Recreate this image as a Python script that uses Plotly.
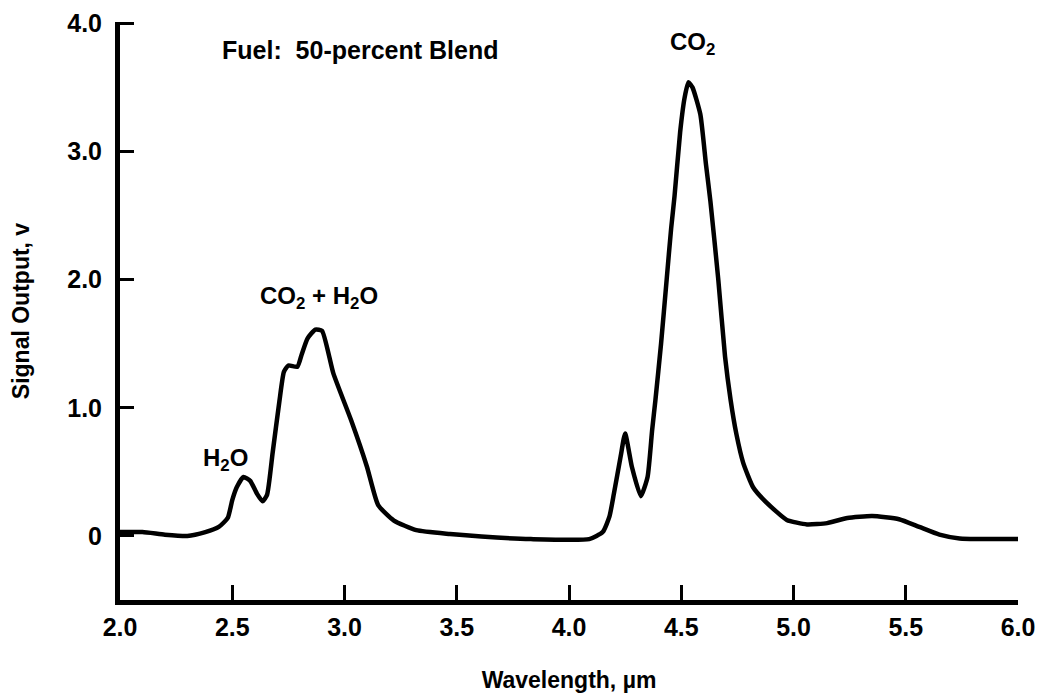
import plotly.graph_objects as go

wavelength = [2.00, 2.10, 2.20, 2.30, 2.38, 2.44, 2.48, 2.50, 2.52, 2.55, 2.58, 2.61, 2.635,
              2.655, 2.68, 2.71, 2.73, 2.75, 2.79, 2.81, 2.835, 2.87, 2.90, 2.95, 3.03, 3.10,
              3.15, 3.22, 3.32, 3.47, 3.61, 3.83, 4.09, 4.15, 4.18, 4.20, 4.23, 4.25, 4.28,
              4.32, 4.35, 4.37, 4.385, 4.41, 4.435, 4.455, 4.47, 4.495, 4.515, 4.532, 4.55,
              4.585, 4.61, 4.63, 4.665, 4.695, 4.72, 4.745, 4.776, 4.82, 4.88, 4.97, 5.06,
              5.15, 5.24, 5.35, 5.47, 5.56, 5.65, 5.74, 5.85, 6.00]
signal = [0.03, 0.03, 0.01, 0.00, 0.03, 0.07, 0.14, 0.28, 0.38, 0.46, 0.43, 0.33, 0.27,
          0.32, 0.65, 1.05, 1.28, 1.33, 1.32, 1.42, 1.54, 1.61, 1.60, 1.27, 0.90, 0.54,
          0.24, 0.12, 0.045, 0.015, -0.005, -0.025, -0.025, 0.03, 0.15, 0.33, 0.62, 0.80, 0.54,
          0.31, 0.46, 0.82, 1.06, 1.50, 2.00, 2.40, 2.65, 3.15, 3.42, 3.54, 3.50,
          3.29, 2.90, 2.61, 2.00, 1.40, 1.06, 0.80, 0.57, 0.38, 0.26, 0.125, 0.09,
          0.10, 0.14, 0.155, 0.13, 0.07, 0.01, -0.02, -0.025, -0.025]

x_ticks = [2.0, 2.5, 3.0, 3.5, 4.0, 4.5, 5.0, 5.5, 6.0]
x_labels = ["2.0", "2.5", "3.0", "3.5", "4.0", "4.5", "5.0", "5.5", "6.0"]
y_ticks = [0, 1, 2, 3, 4]
y_labels = ["0", "1.0", "2.0", "3.0", "4.0"]

FONT = "Liberation Sans, Arial, sans-serif"

fig = go.Figure()
fig.add_trace(go.Scatter(
    x=wavelength, y=signal, mode="lines",
    line=dict(color="black", width=4.5, shape="spline", smoothing=0.5),
    showlegend=False, hoverinfo="x+y",
))

labels = [
    (2.47, 0.60, "H<sub>2</sub>O"),
    (2.885, 1.86, "CO<sub>2</sub> + H<sub>2</sub>O"),
    (4.55, 3.84, "CO<sub>2</sub>"),
]
for lx, ly, txt in labels:
    fig.add_annotation(x=lx, y=ly, text=txt, showarrow=False,
                       font=dict(family=FONT, size=24, color="black", weight="bold"))

fig.add_annotation(x=2.445, xanchor="left", y=3.79, yref="y",
                   text="Fuel:  50-percent Blend", showarrow=False,
                   font=dict(family=FONT, size=25, color="black", weight="bold"))

fig.update_layout(
    width=1046, height=697,
    margin=dict(l=112, r=36, t=14, b=105),
    paper_bgcolor="white", plot_bgcolor="white",
    font=dict(family=FONT, color="black", size=23, weight="bold"),
)
fig.update_xaxes(
    range=[2.0, 6.0], tickvals=x_ticks, ticktext=x_labels, automargin=False,
    showgrid=False, zeroline=False, showline=True, linecolor="black", linewidth=5,
    ticks="inside", ticklen=15, tickwidth=3, tickcolor="black",
    ticklabelstandoff=1,
    tickfont=dict(family=FONT, size=25, color="black", weight="bold"),
    title=dict(text="Wavelength, \u00b5m", standoff=33,
               font=dict(family=FONT, size=23, color="black", weight="bold")),
)
fig.update_yaxes(
    range=[-0.5, 4.01], tickvals=y_ticks, ticktext=y_labels, automargin=False,
    showgrid=False, zeroline=False, showline=True, linecolor="black", linewidth=5,
    ticks="inside", ticklen=14, tickwidth=3, tickcolor="black",
    ticklabelstandoff=8,
    tickfont=dict(family=FONT, size=25, color="black", weight="bold"),
    title=dict(text="Signal Output, v", standoff=34,
               font=dict(family=FONT, size=23, color="black", weight="bold")),
)

fig.write_html("out.html")
